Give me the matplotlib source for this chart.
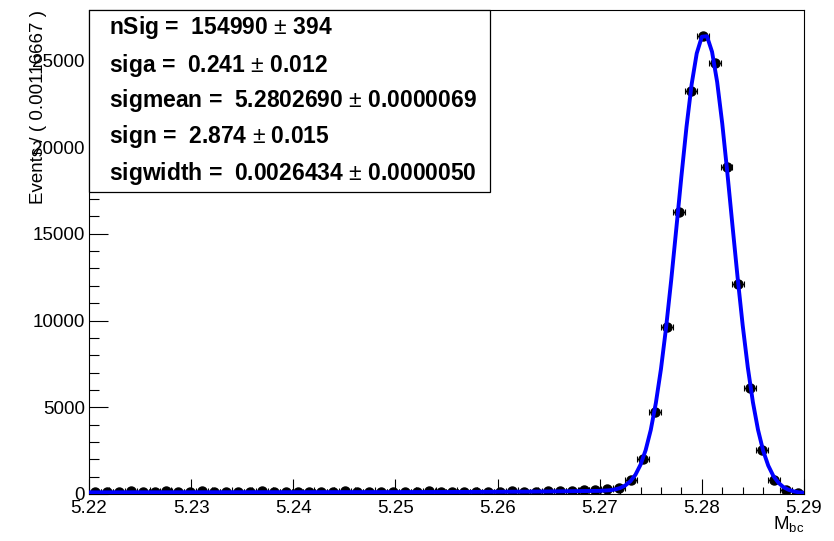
"""
Mbc fit plot (ROOT/RooFit look) redrawn with matplotlib.
Saves out.png.
"""
import numpy as np
import matplotlib
matplotlib.use('Agg')
import matplotlib.pyplot as plt
from matplotlib.patches import Rectangle
from matplotlib.ticker import MultipleLocator

plt.rcParams['font.family'] = ['Liberation Sans', 'DejaVu Sans']
plt.rcParams['mathtext.fontset'] = 'custom'
plt.rcParams['mathtext.rm'] = 'Liberation Sans'
plt.rcParams['mathtext.it'] = 'Liberation Sans:italic'
plt.rcParams['mathtext.bf'] = 'Liberation Sans:bold'

# histogram: 60 bins on [5.22, 5.29]
x_lo, x_hi, n_bins = 5.22, 5.29, 60
counts = [140, 120, 125, 150, 130, 115, 145, 125, 135, 150,
          110, 130, 140, 125, 145, 120, 135, 115, 140, 130,
          125, 145, 120, 135, 130, 140, 115, 130, 145, 125,
          135, 120, 140, 130, 125, 150, 135, 140, 160, 175,
          190, 210, 230, 270, 350, 800, 2010, 4710, 9600, 16260,
          23220, 26380, 24830, 18850, 12130, 6090, 2530, 800, 250, 80]

# fitted curve
curve_x_tail = [5.220, 5.230, 5.240, 5.250, 5.255, 5.260, 5.263, 5.266, 5.268]
curve_y_tail = [95, 100, 105, 110, 115, 125, 135, 150, 165]
curve_x_peak = np.round(np.arange(5.2700, 5.29001, 0.0005), 4)
curve_y_peak = [180, 195, 215, 260, 345, 490, 730, 1110, 1690, 2530,
                3690, 5250, 7210, 9590, 12320, 15290, 18310, 21170, 23610, 25400,
                26360, 26390, 25490, 23750, 21350, 18500, 15470, 12490, 9720, 7300,
                5290, 3700, 2500, 1640, 1040, 645, 390, 240, 150, 95, 70]

fit_lines = [
    ('nSig', '154990', '394'),
    ('siga', '0.241', '0.012'),
    ('sigmean', '5.2802690', '0.0000069'),
    ('sign', '2.874', '0.015'),
    ('sigwidth', '0.0026434', '0.0000050'),
]

edges = np.linspace(x_lo, x_hi, n_bins + 1)
centers = 0.5 * (edges[:-1] + edges[1:])
half_w = 0.5 * (edges[1] - edges[0])
counts = np.asarray(counts, dtype=float)

fig = plt.figure(figsize=(8.34, 5.41), dpi=100)
ax = fig.add_axes([0.1067, 0.0869, 0.8573, 0.8946])

# data points: horizontal bars with end caps, vertical poisson errors
ax.errorbar(centers, counts, xerr=half_w, fmt='none', ecolor='black',
            elinewidth=0.8, capsize=2.2, capthick=0.8, zorder=2)
ax.errorbar(centers, counts, yerr=np.sqrt(counts), fmt='o', color='black',
            ms=6.5, elinewidth=0.8, capsize=0, zorder=2)

cx = np.concatenate([curve_x_tail, curve_x_peak])
cy = np.concatenate([curve_y_tail, curve_y_peak])
ax.plot(cx, cy, color='#0000FF', lw=2.8, zorder=3, solid_joinstyle='round')

ax.set_xlim(x_lo, x_hi)
ax.set_ylim(0, 27900)
ax.xaxis.set_major_locator(MultipleLocator(0.01))
ax.xaxis.set_minor_locator(MultipleLocator(0.002))
ax.yaxis.set_major_locator(MultipleLocator(5000))
ax.yaxis.set_minor_locator(MultipleLocator(1000))
ax.xaxis.set_major_formatter(plt.FuncFormatter(lambda v, p: f'{v:.2f}'))
ax.yaxis.set_major_formatter(plt.FuncFormatter(lambda v, p: f'{v:.0f}'))

ax.tick_params(axis='both', which='both', direction='in', top=False,
               right=False, labelsize=13.5, width=0.8)
ax.tick_params(axis='x', which='major', length=10.5, pad=4)
ax.tick_params(axis='x', which='minor', length=5.3)
ax.tick_params(axis='y', which='major', length=14, pad=3)
ax.tick_params(axis='y', which='minor', length=7)
for s in ax.spines.values():
    s.set_linewidth(0.8)

ax.text(-0.0713, 1.0, 'Events / ( 0.00116667 )', transform=ax.transAxes,
        rotation=90, ha='center', va='top', fontsize=13.5)
ax.text(1.0, -0.062, r'M$_{\rm bc}$', transform=ax.transAxes,
        ha='right', va='center', fontsize=13.5)

# parameter box
box_w, box_h = 0.561, 0.376
ax.add_patch(Rectangle((0, 1 - box_h), box_w, box_h, transform=ax.transAxes,
                       facecolor='white', edgecolor='black', lw=0.9,
                       zorder=5, clip_on=False))
line_ys = [0.963, 0.886, 0.814, 0.738, 0.663]
for (name, val, err), yy in zip(fit_lines, line_ys):
    ax.text(0.028, yy, f'{name} =  {val} $\\pm$ {err}', transform=ax.transAxes,
            ha='left', va='center', fontsize=16.5, fontweight='bold', zorder=6)

fig.savefig('out.png', dpi=100, facecolor='white')
